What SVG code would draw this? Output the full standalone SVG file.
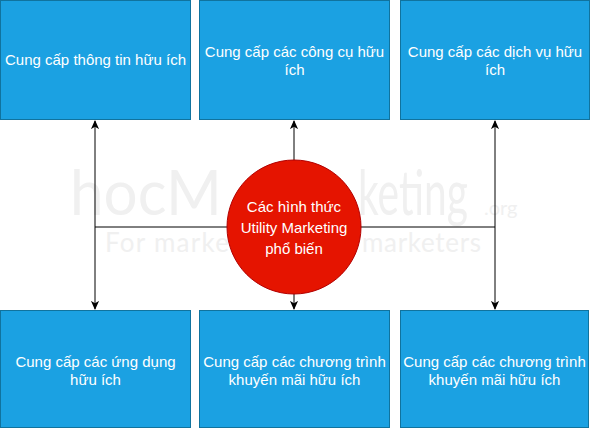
<svg xmlns="http://www.w3.org/2000/svg" width="591" height="431" viewBox="0 0 591 431">
<defs>
<marker id="arr" viewBox="0 0 10 10" refX="9" refY="5" markerWidth="9" markerHeight="9" markerUnits="userSpaceOnUse" orient="auto">
<path d="M0,0.5 L10,5 L0,9.5 L2.5,5 Z" fill="#000"/>
</marker>
<style>
.box{fill:#1ba1e2;stroke:#10739e;stroke-width:1}
.t{font-family:"Liberation Sans",Arial,sans-serif;font-size:15px;fill:#ffffff;text-anchor:middle}
.c{stroke:#000;stroke-width:1;fill:none}
.wm{font-family:Lato,"Open Sans",sans-serif;fill:#f0f0f0}
</style>
</defs>
<rect width="591" height="431" fill="#ffffff"/>
<g id="watermark">
<text class="wm" x="70" y="215" font-size="62" textLength="152" lengthAdjust="spacingAndGlyphs">hocM</text>
<text class="wm" x="358" y="215" font-size="62" textLength="110" lengthAdjust="spacingAndGlyphs">keting</text>
<text class="wm" x="484" y="215" font-size="20">.org</text>
<text class="wm" x="105" y="252" font-size="26" textLength="124" lengthAdjust="spacing">For marke</text>
<text class="wm" x="362" y="252" font-size="26" textLength="119" lengthAdjust="spacing">marketers</text>
</g>
<g id="connectors">
<path class="c" d="M95,227 L495,227"/>
<path class="c" d="M95,227 L95,121" marker-end="url(#arr)"/>
<path class="c" d="M95,227 L95,309" marker-end="url(#arr)"/>
<path class="c" d="M495,227 L495,121" marker-end="url(#arr)"/>
<path class="c" d="M495,227 L495,309" marker-end="url(#arr)"/>
<path class="c" d="M294,160 L294,121" marker-end="url(#arr)"/>
<path class="c" d="M294,294 L294,309" marker-end="url(#arr)"/>
</g>
<g id="center">
<circle cx="294" cy="227" r="67" fill="#e51400" stroke="#b20000" stroke-width="1"/>
<text class="t" x="294" y="212">Các hình thức</text>
<text class="t" x="294" y="233">Utility Marketing</text>
<text class="t" x="294" y="254">phổ biến</text>
</g>
<g id="box1">
<rect class="box" x="0.5" y="0.5" width="190" height="119"/>
<text class="t" x="95.5" y="65">Cung cấp thông tin hữu ích</text>
</g>
<g id="box2">
<rect class="box" x="199.5" y="0.5" width="190" height="119"/>
<text class="t" x="294.5" y="57">Cung cấp các công cụ hữu</text>
<text class="t" x="294.5" y="75">ích</text>
</g>
<g id="box3">
<rect class="box" x="400.5" y="0.5" width="189" height="119"/>
<text class="t" x="495" y="57">Cung cấp các dịch vụ hữu</text>
<text class="t" x="495" y="75">ích</text>
</g>
<g id="box4">
<rect class="box" x="0.5" y="310.5" width="190" height="117"/>
<text class="t" x="95.5" y="367">Cung cấp các ứng dụng</text>
<text class="t" x="95.5" y="385">hữu ích</text>
</g>
<g id="box5">
<rect class="box" x="199.5" y="310.5" width="190" height="117"/>
<text class="t" x="294.5" y="367">Cung cấp các chương trình</text>
<text class="t" x="294.5" y="385">khuyến mãi hữu ích</text>
</g>
<g id="box6">
<rect class="box" x="400.5" y="310.5" width="188" height="117"/>
<text class="t" x="494.5" y="367">Cung cấp các chương trình</text>
<text class="t" x="494.5" y="385">khuyến mãi hữu ích</text>
</g>
</svg>
